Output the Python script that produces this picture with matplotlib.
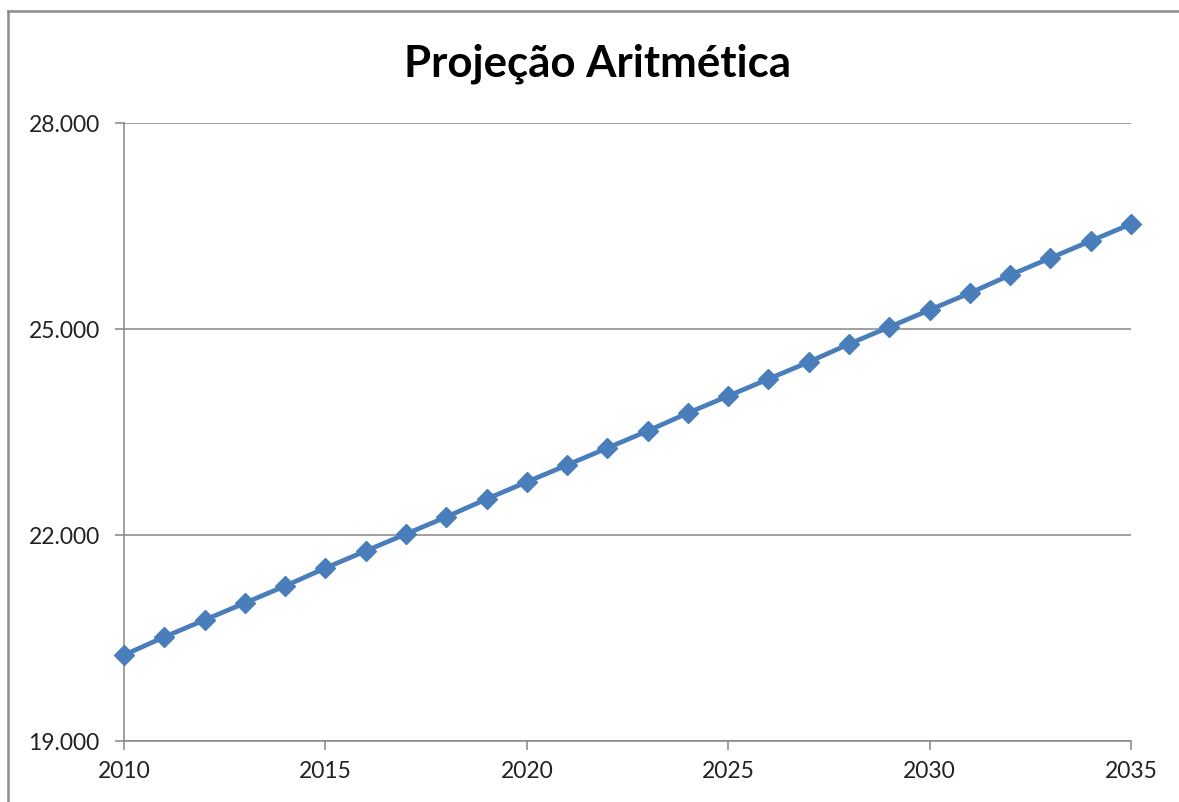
import matplotlib
matplotlib.use("Agg")
import matplotlib.pyplot as plt
from matplotlib.lines import Line2D
from matplotlib.ticker import FuncFormatter

years = [2010, 2011, 2012, 2013, 2014, 2015, 2016, 2017, 2018, 2019, 2020, 2021, 2022,
         2023, 2024, 2025, 2026, 2027, 2028, 2029, 2030, 2031, 2032, 2033, 2034, 2035]
population = [20252, 20515, 20762, 21010, 21257, 21519, 21767, 22015, 22262, 22524,
              22772, 23019, 23267, 23515, 23777, 24024, 24272, 24519, 24782, 25029,
              25277, 25524, 25786, 26034, 26282, 26529]
y_ticks = [19000, 22000, 25000, 28000]
x_ticks = [2010, 2015, 2020, 2025, 2030, 2035]
title = "Projeção Aritmética"

plt.rcParams['font.family'] = ['Lato', 'DejaVu Sans']

W, H = 1179, 802
fig = plt.figure(figsize=(W / 100, H / 100), dpi=100)
ax = fig.add_axes([124 / W, (H - 741) / H, (1131 - 124) / W, (741 - 123) / H])

ax.plot(years, population, color='#4A7EBB', lw=3.4, marker='D', markersize=10.5,
        markerfacecolor='#4A7EBB', markeredgecolor='#4A7EBB', solid_capstyle='round',
        zorder=3, clip_on=False)

ax.set_xlim(2010, 2035)
ax.set_ylim(19000, 28000)
ax.set_xticks(x_ticks)
ax.set_yticks(y_ticks)
ax.yaxis.set_major_formatter(FuncFormatter(lambda v, p: f"{int(v):,}".replace(",", ".")))
ax.grid(axis='y', color='#868686', lw=1.1, zorder=0)
ax.set_axisbelow(True)
for s in ['top', 'right']:
    ax.spines[s].set_visible(False)
for s in ['left', 'bottom']:
    ax.spines[s].set_color('#868686')
    ax.spines[s].set_linewidth(1.1)
ax.tick_params(axis='both', direction='out', length=6.5, width=1.1, color='#868686',
               labelsize=16.5, labelcolor='#222222')
ax.tick_params(axis='y', pad=11)
ax.tick_params(axis='x', pad=8)

fig.text(597 / W, 1 - 77 / H, title, ha='center', va='baseline', fontsize=31.5,
         fontweight='bold', color='black')

# outer chart border (top and left visible)
fig.add_artist(Line2D([8 / W, 1.0], [1 - 11 / H, 1 - 11 / H], transform=fig.transFigure,
                      color='#8C8C8C', lw=1.8))
fig.add_artist(Line2D([8 / W, 8 / W], [0, 1 - 11 / H], transform=fig.transFigure,
                      color='#8C8C8C', lw=1.8))

fig.savefig("out.png", dpi=100)
